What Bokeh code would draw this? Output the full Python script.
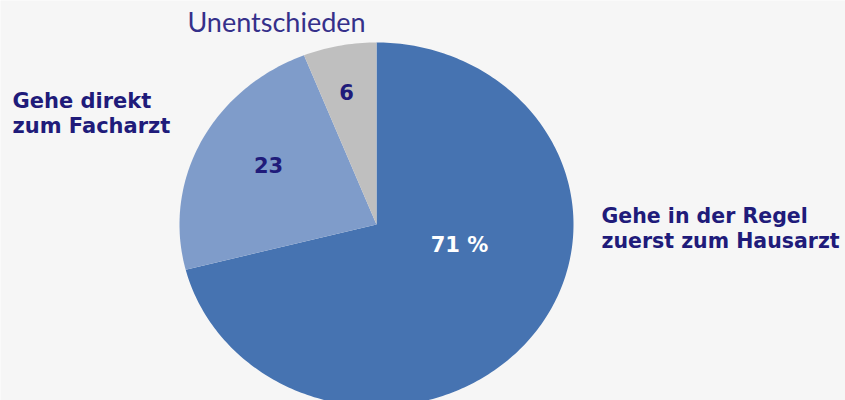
import math
from bokeh.plotting import figure
from bokeh.models import ColumnDataSource, Range1d
from bokeh.core.properties import value
from bokeh.embed import file_html
from bokeh.resources import INLINE

# ---- data ----
categories = ["Gehe in der Regel\nzuerst zum Hausarzt", "Gehe direkt\nzum Facharzt", "Unentschieden"]
shares = [71, 23, 6]
value_labels = ["71 %", "23", "6"]
colors = ["#4673b1", "#7f9cca", "#bfbfbf"]

# ---- layout (screen geometry) ----
W, H = 845, 400
CX, CY = 376, 224      # ellipse centre in figure pixels
RX, RY = 197, 182      # pixel radii

def px(X):  # page x -> data x
    return (X - CX) / RX

def py(Y):  # page y -> data y
    return (CY - Y) / RY

p = figure(width=W, height=H, output_backend="svg", toolbar_location=None,
           x_range=Range1d(-CX / RX, (W - CX) / RX),
           y_range=Range1d(-(H - CY) / RY, CY / RY),
           min_border=0)
p.axis.visible = False
p.grid.visible = False
p.outline_line_color = None
p.background_fill_color = "#f6f6f6"
p.border_fill_color = "#f6f6f6"

# build wedges (start at 12 o'clock, clockwise)
total = sum(shares)
xs, ys = [], []
start = 90.0
for s in shares:
    sweep = 360.0 * s / total
    n = max(8, int(sweep))
    angs = [math.radians(start - sweep * i / n) for i in range(n + 1)]
    xs.append([0.0] + [math.cos(a) for a in angs])
    ys.append([0.0] + [math.sin(a) for a in angs])
    start -= sweep

p.patches(source=ColumnDataSource(dict(xs=xs, ys=ys, c=colors)),
          xs="xs", ys="ys", fill_color="c", line_color=None)

navy = "#201b7a"
FONT = value("DejaVu Sans")

# value labels inside slices
val_src = ColumnDataSource(dict(
    x=[px(459), px(268), px(346)],
    y=[py(244), py(164), py(91)],
    t=value_labels,
    c=["#ffffff", navy, navy]))
p.text(x="x", y="y", text="t", source=val_src, text_color="c",
       text_font=FONT, text_font_style="bold", text_font_size="21px",
       text_align="center", text_baseline="middle")

# category labels
p.text(x=[px(601)], y=[py(203)], text=[categories[0]],
       text_color=navy, text_font=FONT, text_font_style="bold",
       text_font_size="20.5px", text_align="left", text_baseline="top",
       text_line_height=1.07)
p.text(x=[px(12)], y=[py(88)], text=[categories[1]],
       text_color=navy, text_font=FONT, text_font_style="bold",
       text_font_size="21px", text_align="left", text_baseline="top",
       text_line_height=1.05)
p.text(x=[px(276)], y=[py(21)], text=[categories[2]],
       text_color="#35308a", text_font=value("Lato"), text_font_style="normal",
       text_font_size="27px", text_align="center", text_baseline="middle")

open("out.html", "w").write(file_html(p, INLINE))
